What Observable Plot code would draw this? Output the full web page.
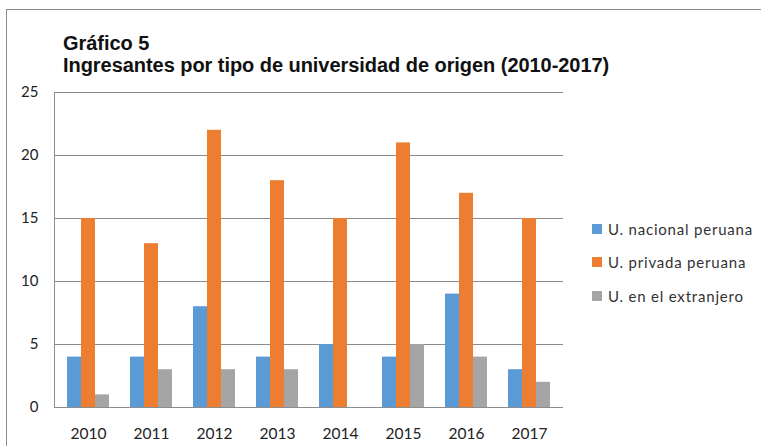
<!DOCTYPE html>
<html>
<head>
<meta charset="utf-8">
<script src="https://cdn.jsdelivr.net/npm/d3@7"></script>
<script src="https://cdn.jsdelivr.net/npm/@observablehq/plot@0.6"></script>
<style>
  html, body { margin: 0; padding: 0; background: #fff; }
  #wrap { position: relative; width: 761px; height: 446px; overflow: hidden; background: #fff; }
  #border { position: absolute; left: 6px; top: 9px; width: 800px; height: 500px;
            border-top: 1px solid #8c8c8c; border-left: 1px solid #8c8c8c; }
  #title { position: absolute; left: 63px; top: 32px; font-family: "Liberation Sans", Arial, sans-serif;
           font-weight: bold; font-size: 20px; line-height: 22px; color: #111; letter-spacing: -0.05px; }
  #chart { position: absolute; left: 0; top: 0; }
  #legend { position: absolute; left: 592px; top: 212px; font-family: Lato, sans-serif; font-size: 15px; color: #333; }
  .row { display: flex; align-items: center; height: 33.5px; letter-spacing: 0.8px; }
  .sw { width: 10px; height: 10px; margin-right: 6px; }
</style>
</head>
<body>
<div id="wrap">
  <div id="border"></div>
  <div id="chart"></div>
  <div id="title">Gráfico 5<br>Ingresantes por tipo de universidad de origen (2010-2017)</div>
  <div id="legend"></div>
</div>
<script>
const years = ["2010", "2011", "2012", "2013", "2014", "2015", "2016", "2017"];
const nacional = [4, 4, 8, 4, 5, 4, 9, 3];
const privada = [15, 13, 22, 18, 15, 21, 17, 15];
const extranjero = [1, 3, 3, 3, 0, 5, 4, 2];
const seriesNames = ["U. nacional peruana", "U. privada peruana", "U. en el extranjero"];
const seriesColors = ["#5B9BD5", "#ED7D31", "#A5A5A5"];
const yTicks = [0, 5, 10, 15, 20, 25];

const seriesValues = [nacional, privada, extranjero];

const W = 580, H = 446;
const mL = 54, mR = 17, mT = 92, mB = 39;
const pad = 0.78;
const step = (W - mL - mR) / years.length;
const barW = step * (1 - pad);

const marks = [
  Plot.gridY(yTicks, {stroke: "#8c8c8c", strokeOpacity: 1}),
  Plot.frame({anchor: "left", stroke: "#8c8c8c"}),
  Plot.axisY(yTicks, {tickSize: 0, tickPadding: 16, fontSize: 15, fill: "#222", fontFamily: "Lato, sans-serif"}),
  Plot.axisX({tickSize: 0, tickPadding: 20, fontSize: 15.5, fill: "#222", fontFamily: "Lato, sans-serif"})
];

seriesValues.forEach((vals, i) => {
  const rows = years.map((y, j) => ({year: y, value: vals[j], series: seriesNames[i]}));
  marks.push(Plot.barY(rows, {x: "year", y: "value", fill: seriesColors[i], dx: (i - 1) * barW}));
});

const chart = Plot.plot({
  width: W,
  height: H,
  marginLeft: mL,
  marginRight: mR,
  marginTop: mT,
  marginBottom: mB,
  style: {background: "transparent", overflow: "visible"},
  x: {domain: years, paddingInner: pad, paddingOuter: pad / 2, label: null},
  y: {domain: [0, 25], label: null},
  marks
});
document.getElementById("chart").appendChild(chart);

const legend = document.getElementById("legend");
seriesNames.forEach((name, i) => {
  const row = document.createElement("div");
  row.className = "row";
  const sw = document.createElement("div");
  sw.className = "sw";
  sw.style.background = seriesColors[i];
  const tx = document.createElement("span");
  tx.textContent = name;
  row.appendChild(sw);
  row.appendChild(tx);
  legend.appendChild(row);
});
</script>
</body>
</html>
